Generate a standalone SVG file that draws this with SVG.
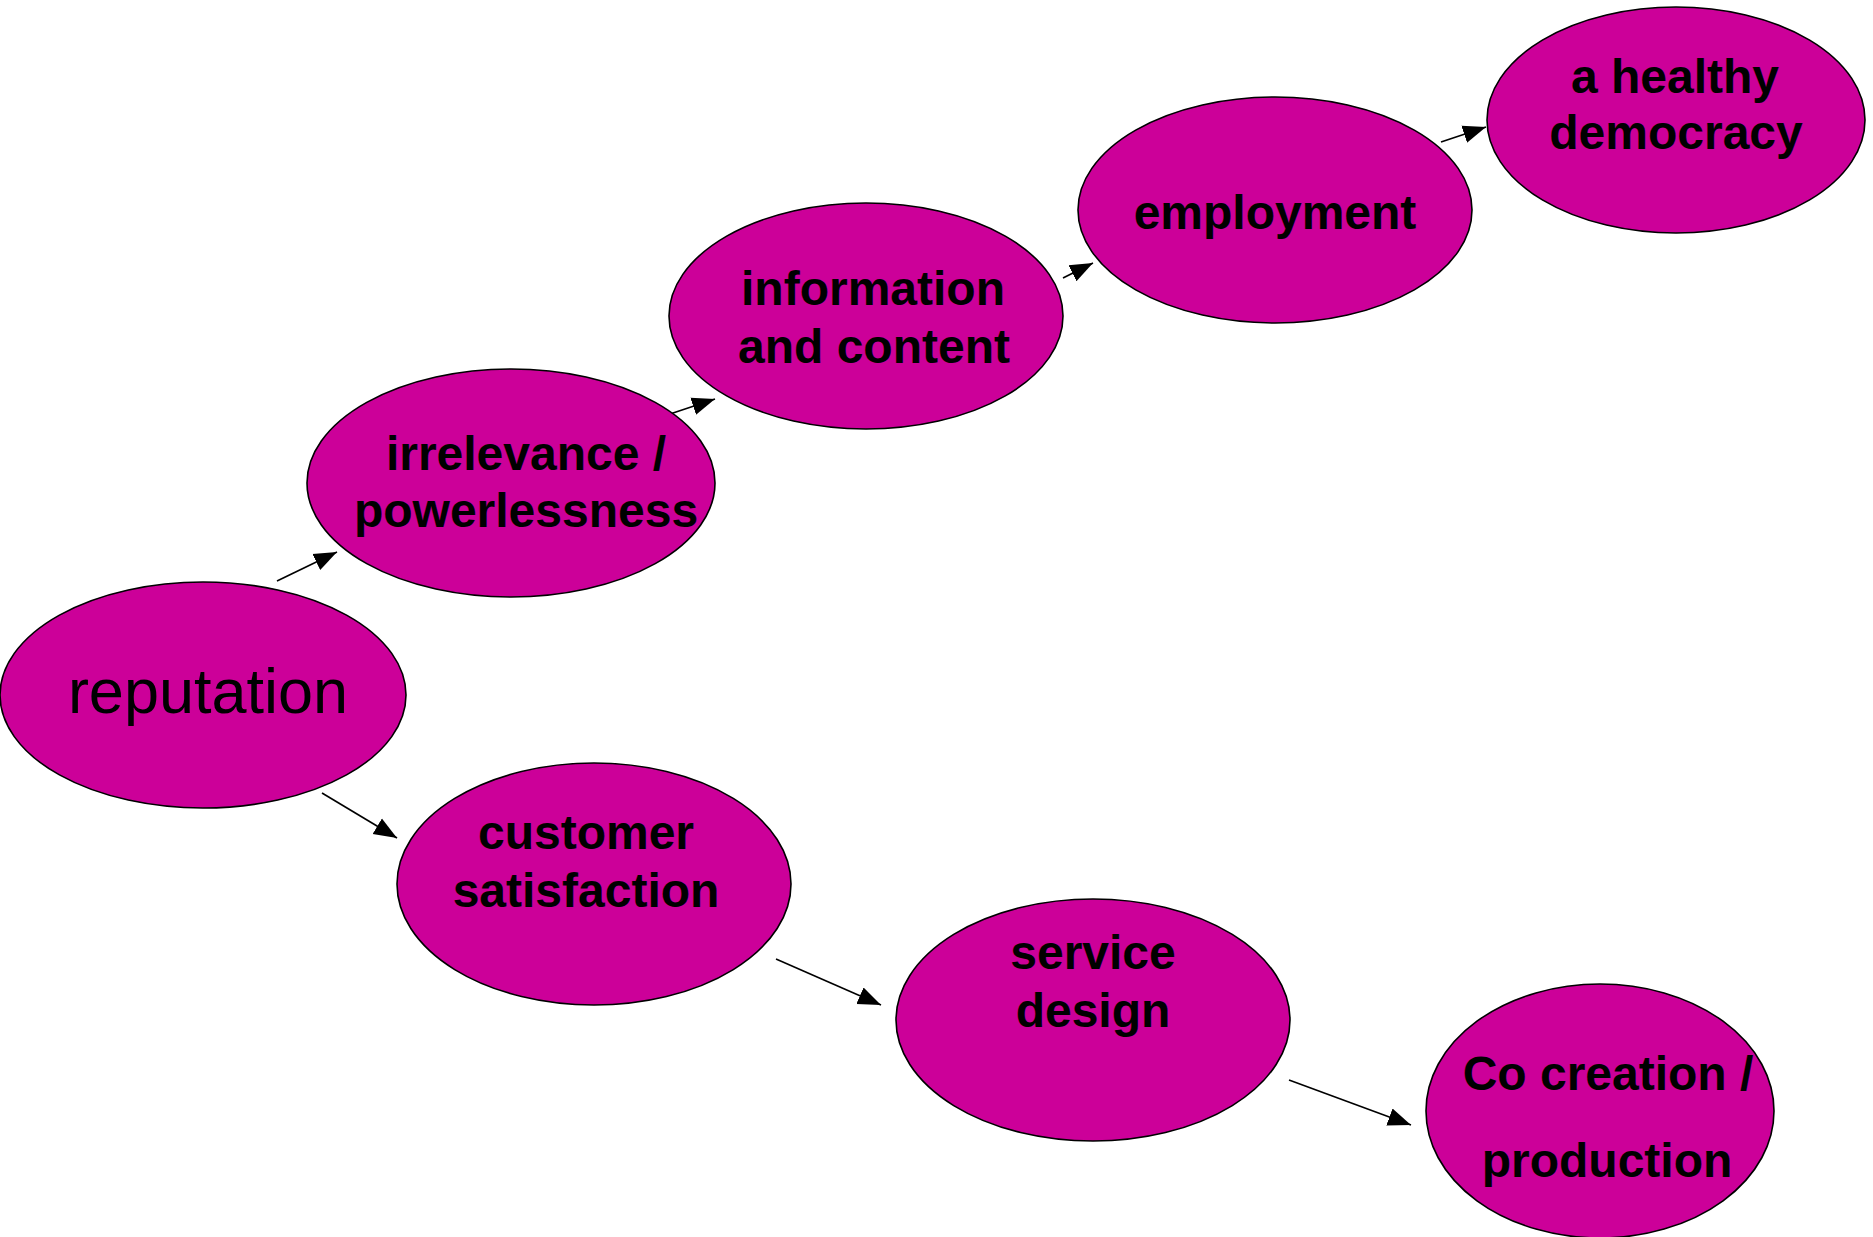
<svg xmlns="http://www.w3.org/2000/svg" width="1873" height="1237" viewBox="0 0 1873 1237">
<style>
.node{fill:#CC0099;stroke:#000;stroke-width:1.6}
.lbl{font-family:"Liberation Sans",Arial,sans-serif;font-weight:bold;font-size:48px;fill:#000;text-anchor:middle}
.big{font-family:"Liberation Sans",Arial,sans-serif;font-size:63px;fill:#000;text-anchor:middle}
.conn{stroke:#000;stroke-width:1.6;fill:none;marker-end:url(#ah)}
</style>
<defs>
<marker id="ah" markerUnits="userSpaceOnUse" markerWidth="26" markerHeight="20" refX="23" refY="9" orient="auto" viewBox="0 0 26 18">
<path d="M0,0 L23,9 L0,18 Z" fill="#000"/>
</marker>
</defs>
<rect width="1873" height="1237" fill="#fff"/>
<g id="connectors">
<line class="conn" x1="277" y1="581" x2="337" y2="552"/>
<line class="conn" x1="670" y1="414" x2="715" y2="399"/>
<line class="conn" x1="1063" y1="278" x2="1093" y2="263"/>
<line class="conn" x1="1441" y1="142" x2="1486" y2="127"/>
<line class="conn" x1="322" y1="793" x2="397" y2="838"/>
<line class="conn" x1="776" y1="959" x2="881" y2="1005"/>
<line class="conn" x1="1289" y1="1080" x2="1411" y2="1125"/>
</g>
<g id="reputation">
<ellipse class="node" cx="203" cy="695" rx="203" ry="113"/>
<text class="big" x="208" y="713">reputation</text>
</g>
<g id="irrelevance">
<ellipse class="node" cx="511" cy="483" rx="204" ry="114"/>
<text class="lbl" x="526" y="470">irrelevance /</text>
<text class="lbl" x="526" y="527">powerlessness</text>
</g>
<g id="information">
<ellipse class="node" cx="866" cy="316" rx="197" ry="113"/>
<text class="lbl" x="873" y="305">information</text>
<text class="lbl" x="874" y="363">and content</text>
</g>
<g id="employment">
<ellipse class="node" cx="1275" cy="210" rx="197" ry="113"/>
<text class="lbl" x="1275" y="229">employment</text>
</g>
<g id="democracy">
<ellipse class="node" cx="1676" cy="120" rx="189" ry="113"/>
<text class="lbl" x="1675" y="93">a healthy</text>
<text class="lbl" x="1676" y="149">democracy</text>
</g>
<g id="customer">
<ellipse class="node" cx="594" cy="884" rx="197" ry="121"/>
<text class="lbl" x="586" y="849">customer</text>
<text class="lbl" x="586" y="907">satisfaction</text>
</g>
<g id="service">
<ellipse class="node" cx="1093" cy="1020" rx="197" ry="121"/>
<text class="lbl" x="1093" y="969">service</text>
<text class="lbl" x="1093" y="1027">design</text>
</g>
<g id="cocreation">
<ellipse class="node" cx="1600" cy="1111" rx="174" ry="127"/>
<text class="lbl" x="1608" y="1090">Co creation /</text>
<text class="lbl" x="1607" y="1177">production</text>
</g>
</svg>
